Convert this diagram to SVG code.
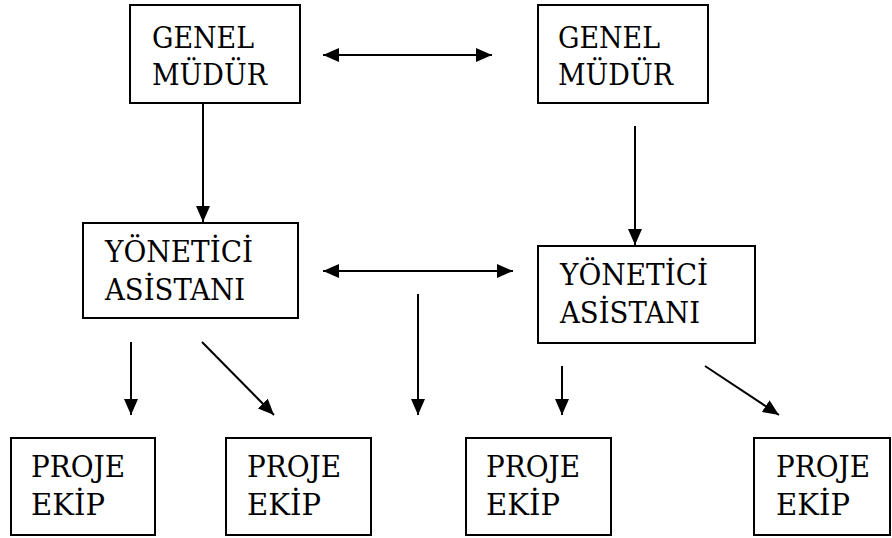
<svg xmlns="http://www.w3.org/2000/svg" width="892" height="538" viewBox="0 0 892 538">
<style>
.box{fill:#fff;stroke:#000;stroke-width:2}
.c{stroke:#000;stroke-width:2;fill:none}
text{font-family:"DejaVu Serif","Liberation Serif",serif;font-size:30px;fill:#000}
</style>
<defs>
<marker id="ah" markerUnits="userSpaceOnUse" markerWidth="16" markerHeight="14" refX="16" refY="7" orient="auto-start-reverse">
<path d="M0,0 L16,7 L0,14 z" fill="#000"/>
</marker>
</defs>
<rect width="892" height="538" fill="#fff"/>
<g id="gm1"><rect class="box" x="130" y="5" width="170" height="98"/><text x="152" y="48" textLength="102" lengthAdjust="spacingAndGlyphs">GENEL</text><text x="152" y="85" textLength="115" lengthAdjust="spacingAndGlyphs">MÜDÜR</text></g>
<g id="gm2"><rect class="box" x="538" y="5" width="170" height="98"/><text x="558" y="48" textLength="102" lengthAdjust="spacingAndGlyphs">GENEL</text><text x="558" y="85" textLength="115" lengthAdjust="spacingAndGlyphs">MÜDÜR</text></g>
<g id="ya1"><rect class="box" x="83" y="223" width="215" height="95"/><text x="105" y="262" textLength="148" lengthAdjust="spacingAndGlyphs">YÖNETİCİ</text><text x="105" y="300" textLength="140" lengthAdjust="spacingAndGlyphs">ASİSTANI</text></g>
<g id="ya2"><rect class="box" x="538" y="246" width="217" height="97"/><text x="560" y="285" textLength="148" lengthAdjust="spacingAndGlyphs">YÖNETİCİ</text><text x="560" y="323" textLength="140" lengthAdjust="spacingAndGlyphs">ASİSTANI</text></g>
<g id="pe1"><rect class="box" x="11" y="438" width="144" height="97"/><text x="31" y="477" textLength="94" lengthAdjust="spacingAndGlyphs">PROJE</text><text x="31" y="515" textLength="74" lengthAdjust="spacingAndGlyphs">EKİP</text></g>
<g id="pe2"><rect class="box" x="226" y="438" width="145" height="97"/><text x="247" y="477" textLength="94" lengthAdjust="spacingAndGlyphs">PROJE</text><text x="247" y="515" textLength="74" lengthAdjust="spacingAndGlyphs">EKİP</text></g>
<g id="pe3"><rect class="box" x="466" y="438" width="145" height="97"/><text x="486" y="477" textLength="94" lengthAdjust="spacingAndGlyphs">PROJE</text><text x="486" y="515" textLength="74" lengthAdjust="spacingAndGlyphs">EKİP</text></g>
<g id="pe4"><rect class="box" x="754" y="438" width="136" height="97"/><text x="776" y="477" textLength="94" lengthAdjust="spacingAndGlyphs">PROJE</text><text x="776" y="515" textLength="74" lengthAdjust="spacingAndGlyphs">EKİP</text></g>
<g id="connectors">
<line class="c" x1="323" y1="55" x2="492" y2="55" marker-start="url(#ah)" marker-end="url(#ah)"/>
<line class="c" x1="323" y1="271" x2="513" y2="271" marker-start="url(#ah)" marker-end="url(#ah)"/>
<line class="c" x1="203" y1="103" x2="203" y2="222" marker-end="url(#ah)"/>
<line class="c" x1="635" y1="126" x2="635" y2="245" marker-end="url(#ah)"/>
<line class="c" x1="131" y1="342" x2="131" y2="415" marker-end="url(#ah)"/>
<line class="c" x1="202" y1="342" x2="274" y2="415" marker-end="url(#ah)"/>
<line class="c" x1="418" y1="294" x2="418" y2="415" marker-end="url(#ah)"/>
<line class="c" x1="562" y1="366" x2="562" y2="415" marker-end="url(#ah)"/>
<line class="c" x1="705" y1="366" x2="779" y2="415" marker-end="url(#ah)"/>
</g>
</svg>
